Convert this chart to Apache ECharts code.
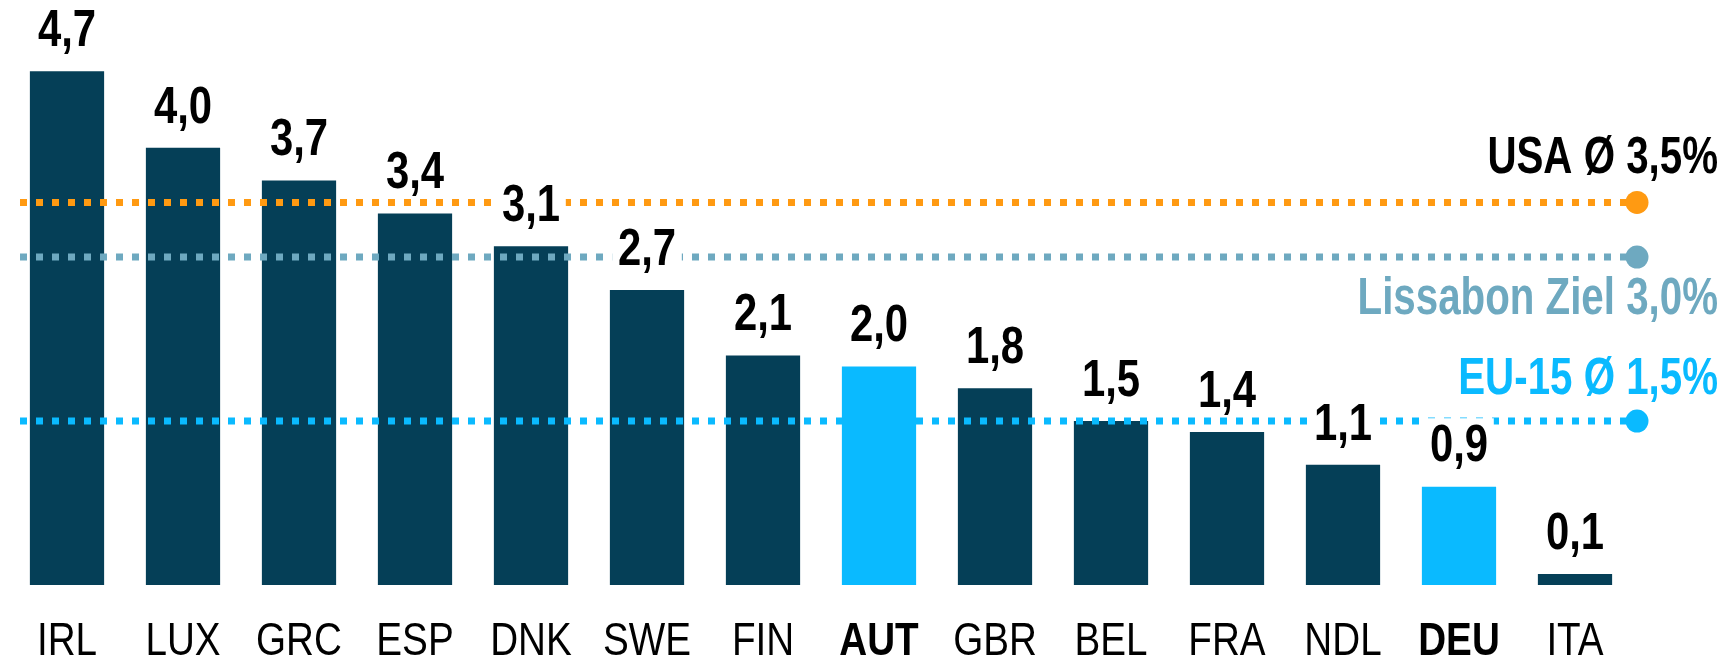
<!DOCTYPE html>
<html>
<head>
<meta charset="utf-8">
<script src="https://cdn.jsdelivr.net/npm/echarts@6/dist/echarts.min.js"></script>
<style>
html,body{margin:0;padding:0;background:#fff;}
#chart{width:1731px;height:663px;}
</style>
</head>
<body>
<div id="chart"></div>
<script>
const categories = ['IRL','LUX','GRC','ESP','DNK','SWE','FIN','AUT','GBR','BEL','FRA','NDL','DEU','ITA'];
const values = [4.7, 4.0, 3.7, 3.4, 3.1, 2.7, 2.1, 2.0, 1.8, 1.5, 1.4, 1.1, 0.9, 0.1];
const highlighted = ['AUT', 'DEU'];
const refNames = ['USA Ø 3,5%', 'Lissabon Ziel 3,0%', 'EU-15 Ø 1,5%'];
const refValues = [3.5, 3.0, 1.5];

const FAMILY = "'Liberation Sans', Arial, sans-serif";
const DARK = '#053F57';
const LIGHT = '#0ABAFF';
const refColors = ['#FF9A12', '#6EA9C0', '#0ABAFF'];
const refTextColors = ['#000000', '#6EA9C0', '#0ABAFF'];
const refLabelDy = [-44, 42.5, -41.5];

const fmt = v => v.toFixed(1).replace('.', ',');

const chart = echarts.init(document.getElementById('chart'), null, {renderer: 'canvas'});

const lineSeries = refValues.map((v, i) => ({
  type: 'line',
  xAxisIndex: 1,
  yAxisIndex: 1,
  z: 3,
  clip: false,
  silent: true,
  symbolSize: 23,
  lineStyle: {color: refColors[i], width: 7, type: [7, 9], cap: 'butt'},
  itemStyle: {color: refColors[i]},
  data: [
    {value: [0, v], symbol: 'none'},
    {value: [1, v], symbol: 'circle'}
  ]
}));

chart.setOption({
  animation: false,
  backgroundColor: '#fff',
  grid: [
    {left: 9, right: 98, top: 38.5, bottom: 78},
    {left: 20, right: 94, top: 38.5, bottom: 78}
  ],
  xAxis: [
    {
      type: 'category',
      gridIndex: 0,
      data: categories,
      axisLine: {show: false},
      axisTick: {show: false},
      axisLabel: {show: false}
    },
    {type: 'value', gridIndex: 1, min: 0, max: 1, show: false}
  ],
  yAxis: [
    {type: 'value', gridIndex: 0, min: 0, max: 5, show: false, splitLine: {show: false}},
    {type: 'value', gridIndex: 1, min: 0, max: 5, show: false, splitLine: {show: false}}
  ],
  series: [
    {
      type: 'bar',
      z: 2,
      barWidth: '64%',
      silent: true,
      data: values.map((v, i) => ({
        value: v,
        itemStyle: {color: highlighted.includes(categories[i]) ? LIGHT : DARK}
      }))
    },
    ...lineSeries,
    {
      // value labels above the bars (narrow bold text with white backing)
      type: 'custom',
      z: 4,
      silent: true,
      xAxisIndex: 0,
      yAxisIndex: 0,
      encode: {x: 0, y: 1},
      data: values.map((v, i) => [i, v]),
      renderItem: (params, api) => {
        const pt = api.coord([api.value(0), api.value(1)]);
        return {
          type: 'text',
          x: pt[0],
          y: pt[1] - 19.3,
          scaleX: 0.82,
          style: {
            text: fmt(api.value(1)),
            fill: '#000',
            fontFamily: FAMILY,
            fontWeight: 'bold',
            fontSize: 51,
            lineHeight: 40,
            align: 'center',
            verticalAlign: 'bottom',
            backgroundColor: '#fff',
            padding: [9, 7, 0, 7]
          }
        };
      }
    },
    {
      // category labels under the bars
      type: 'custom',
      z: 4,
      silent: true,
      xAxisIndex: 0,
      yAxisIndex: 0,
      encode: {x: 0, y: 1},
      data: categories.map((c, i) => [i, 0]),
      renderItem: (params, api) => {
        const idx = params.dataIndex;
        const pt = api.coord([idx, 0]);
        return {
          type: 'text',
          x: pt[0],
          y: pt[1] + 57,
          scaleX: 0.84,
          style: {
            text: categories[idx],
            fill: '#000',
            fontFamily: FAMILY,
            fontWeight: highlighted.includes(categories[idx]) ? 'bold' : 'normal',
            fontSize: 46,
            align: 'center',
            verticalAlign: 'middle'
          }
        };
      }
    },
    {
      // reference line captions
      type: 'custom',
      z: 4,
      silent: true,
      xAxisIndex: 1,
      yAxisIndex: 1,
      encode: {x: 0, y: 1},
      data: refValues.map(v => [1, v]),
      renderItem: (params, api) => {
        const i = params.dataIndex;
        const pt = api.coord([api.value(0), api.value(1)]);
        return {
          type: 'text',
          x: pt[0] + 81,
          y: pt[1] + refLabelDy[i],
          scaleX: 0.79,
          style: {
            text: refNames[i],
            fill: refTextColors[i],
            fontFamily: FAMILY,
            fontWeight: 'bold',
            fontSize: 51,
            align: 'right',
            verticalAlign: 'middle'
          }
        };
      }
    }
  ]
});
</script>
</body>
</html>
